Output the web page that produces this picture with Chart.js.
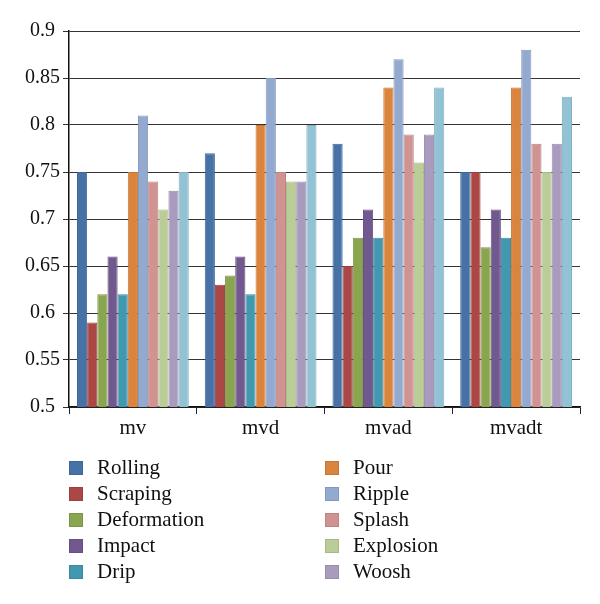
<!DOCTYPE html>
<html><head><meta charset="utf-8">
<script src="https://cdn.jsdelivr.net/npm/chart.js@4"></script>
<style>
html,body{margin:0;padding:0;background:#fff;}
#wrap{position:relative;width:600px;height:604px;overflow:hidden;}
canvas{position:absolute;left:0;top:0;}
#legend{position:absolute;left:0;top:0;width:600px;height:604px;font-family:"Liberation Serif",serif;font-size:21px;color:#111;}
.item{position:absolute;height:26px;line-height:26px;white-space:nowrap;}
.box{position:absolute;width:14px;height:14px;top:6px;left:0;box-sizing:border-box;border:1px solid;}
.txt{position:absolute;left:28px;top:-1px;}
</style></head>
<body><div id="wrap"><canvas id="c" width="600" height="604"></canvas><div id="legend"></div></div>
<script>
const categories = ["mv", "mvd", "mvad", "mvadt"];
const seriesNames = ["Rolling", "Scraping", "Deformation", "Impact", "Drip", "Pour", "Ripple", "Splash", "Explosion", "Woosh", "Other"];
const rolling     = [0.75, 0.77, 0.78, 0.75];
const scraping    = [0.59, 0.63, 0.65, 0.75];
const deformation = [0.62, 0.64, 0.68, 0.67];
const impact      = [0.66, 0.66, 0.71, 0.71];
const drip        = [0.62, 0.62, 0.68, 0.68];
const pour        = [0.75, 0.80, 0.84, 0.84];
const ripple      = [0.81, 0.85, 0.87, 0.88];
const splash      = [0.74, 0.75, 0.79, 0.78];
const explosion   = [0.71, 0.74, 0.76, 0.75];
const woosh       = [0.73, 0.74, 0.79, 0.78];
const other       = [0.75, 0.80, 0.84, 0.83];
const yTicks = [0.5, 0.55, 0.6, 0.65, 0.7, 0.75, 0.8, 0.85, 0.9];
const legendCount = 10;

const seriesValues = [rolling, scraping, deformation, impact, drip, pour, ripple, splash, explosion, woosh, other];
const fills   = ["#4672A8", "#AB4744", "#89A54E", "#71598F", "#4298AF", "#DB843D", "#93A9D0", "#D09392", "#BACD96", "#A99BBE", "#91C3D5"];
const borders = ["#3F6797", "#9A403D", "#7B9446", "#665081", "#3B899E", "#C57737", "#8498BB", "#BC8483", "#A7B987", "#988BAB", "#83B0C0"];

const FONT = "'Liberation Serif', serif";
const chart = new Chart(document.getElementById('c'), {
  type: 'bar',
  data: {
    labels: categories,
    datasets: seriesValues.map((vals, i) => ({
      label: seriesNames[i],
      data: vals,
      backgroundColor: fills[i],
      borderColor: borders[i],
      borderWidth: 1,
      borderSkipped: false,
      barPercentage: 1.0,
      categoryPercentage: 0.875
    }))
  },
  options: {
    responsive: false,
    animation: false,
    events: [],
    layout: { padding: { top: 31, right: 20, bottom: 157, left: 0 } },
    plugins: { legend: { display: false }, tooltip: { enabled: false } },
    scales: {
      x: {
        grid: { offset: true, drawOnChartArea: false, drawTicks: true, tickLength: 7, color: '#222', lineWidth: 1 },
        border: { display: true, color: '#111', width: 1.5 },
        ticks: { color: '#111', font: { family: FONT, size: 21 }, padding: 2 },
        afterFit: s => { s.height = 40; }
      },
      y: {
        min: 0.5, max: 0.9,
        afterBuildTicks: s => { s.ticks = yTicks.map(v => ({ value: v })); },
        grid: { color: '#333', lineWidth: 1, tickLength: 6, drawTicks: true },
        border: { display: true, color: '#111', width: 1.5 },
        ticks: { color: '#111', font: { family: FONT, size: 20 }, padding: 3, crossAlign: 'center',
                 callback: v => String(parseFloat(Number(v).toFixed(2))) },
        afterFit: s => { s.width = 69; }
      }
    }
  }
});

// HTML legend (two columns, column-major)
const lg = document.getElementById('legend');
chart.data.datasets.slice(0, legendCount).forEach((ds, i) => {
  const col = Math.floor(i / 5), row = i % 5;
  const it = document.createElement('div');
  it.className = 'item';
  it.style.left = (col === 0 ? 69 : 325) + 'px';
  it.style.top = (455 + row * 26) + 'px';
  const b = document.createElement('div');
  b.className = 'box';
  b.style.background = ds.backgroundColor;
  b.style.borderColor = ds.borderColor;
  const t = document.createElement('span');
  t.className = 'txt';
  t.textContent = ds.label;
  it.appendChild(b); it.appendChild(t);
  lg.appendChild(it);
});
</script>
</body></html>
